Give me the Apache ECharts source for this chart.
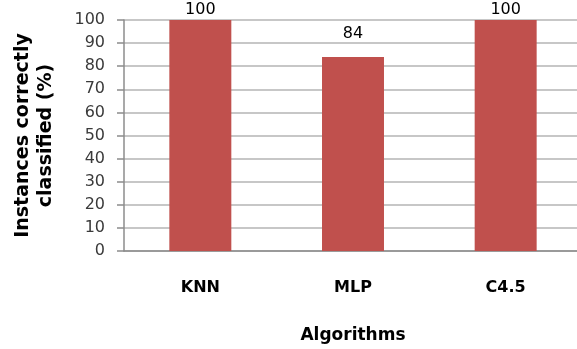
<!DOCTYPE html>
<html>
<head>
<meta charset="utf-8">
<script src="https://cdn.jsdelivr.net/npm/echarts@6/dist/echarts.min.js"></script>
<style>
  html, body { margin: 0; padding: 0; background: #ffffff; }
  #chart { width: 577px; height: 349px; }
</style>
</head>
<body>
<div id="chart"></div>
<script>
// Accuracy of each classifier
const algorithms = ['KNN', 'MLP', 'C4.5'];
const accuracy = [100, 84, 100];
const yTicks = [0, 10, 20, 30, 40, 50, 60, 70, 80, 90, 100];

const yMin = yTicks[0];
const yMax = yTicks[yTicks.length - 1];
const yStep = yTicks[1] - yTicks[0];

const chart = echarts.init(document.getElementById('chart'), null, { renderer: 'canvas' });

// Labels of full-height bars sit just above the bar so they stay inside the chart
const barData = accuracy.map(v => ({
  value: v,
  label: { distance: v >= yMax ? 2 : 15 }
}));

chart.setOption({
  animation: false,
  backgroundColor: '#ffffff',
  grid: { left: 124, right: -5, top: 20, bottom: 98, containLabel: false, outerBoundsMode: 'none' },
  xAxis: {
    type: 'category',
    data: algorithms,
    name: 'Algorithms',
    nameLocation: 'middle',
    nameGap: 76,
    nameTextStyle: { fontFamily: 'DejaVu Sans', fontWeight: 'bold', fontSize: 17, color: '#000000' },
    axisLine: { show: true, lineStyle: { color: '#8c8c8c', width: 1.5 } },
    axisTick: { show: false },
    axisLabel: { margin: 29, fontFamily: 'DejaVu Sans', fontWeight: 'bold', fontSize: 16, color: '#000000' }
  },
  yAxis: {
    type: 'value',
    min: yMin,
    max: yMax,
    interval: yStep,
    name: 'Instances correctly\nclassified (%)',
    nameLocation: 'middle',
    nameGap: 66,
    nameRotate: 90,
    nameTextStyle: { fontFamily: 'DejaVu Sans', fontWeight: 'bold', fontSize: 19, color: '#000000', lineHeight: 23, align: 'center' },
    axisLine: { show: true, lineStyle: { color: '#8c8c8c', width: 1.5 } },
    axisTick: { show: true, inside: false, length: 7, lineStyle: { color: '#8c8c8c', width: 1.5 } },
    axisLabel: { margin: 19, fontFamily: 'DejaVu Sans', fontSize: 16, color: '#3a3a3a' },
    splitLine: { show: true, lineStyle: { color: '#b4b4b4', width: 1.5 } }
  },
  series: [{
    type: 'bar',
    data: barData,
    barWidth: '40.6%',
    itemStyle: { color: '#c0504d' },
    label: {
      show: true,
      position: 'top',
      fontFamily: 'DejaVu Sans',
      fontSize: 16,
      color: '#000000'
    }
  }]
});
</script>
</body>
</html>
